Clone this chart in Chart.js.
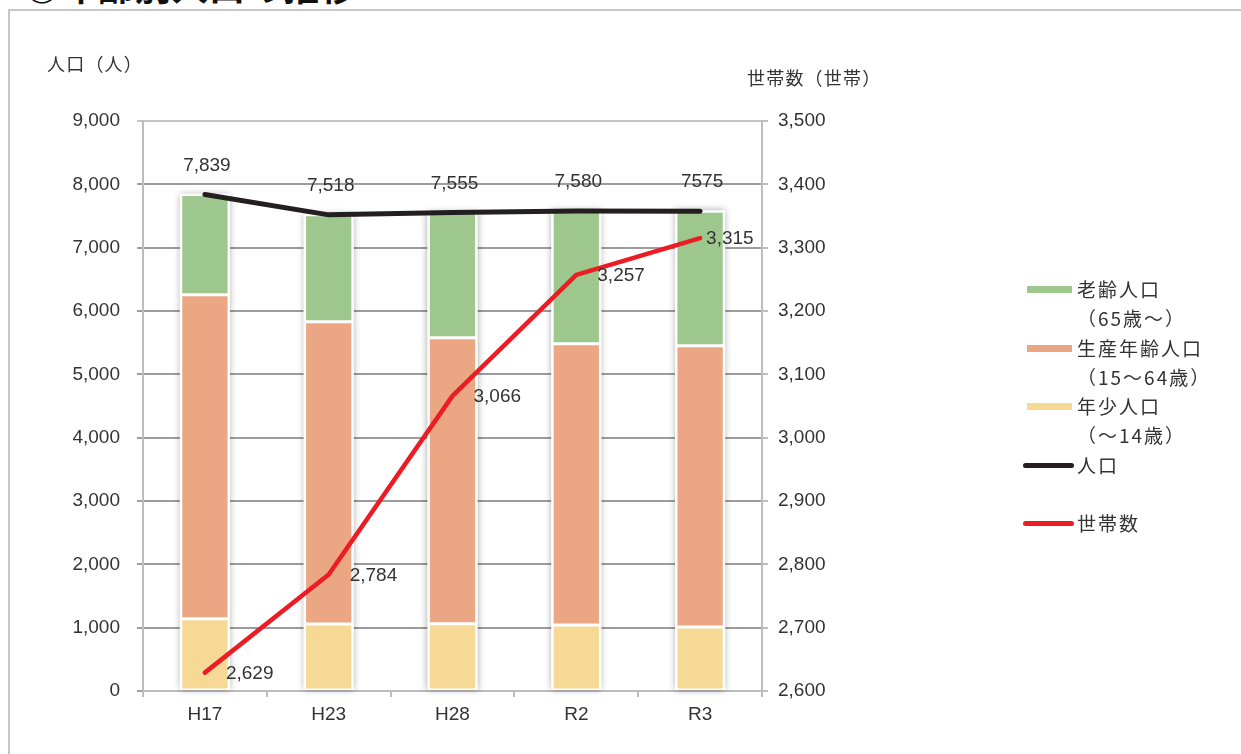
<!DOCTYPE html>
<html>
<head>
<meta charset="utf-8">
<script src="https://cdn.jsdelivr.net/npm/chart.js@4.4.1/dist/chart.umd.min.js"></script>
<style>
  html, body { margin:0; padding:0; background:#fff; }
  #wrap { position:relative; width:1241px; height:754px; overflow:hidden; font-family:"Noto Sans CJK JP", sans-serif; color:#333; }
  #frame { position:absolute; left:8px; top:9px; width:1300px; height:800px; border-left:2px solid #c8c8c8; border-top:2px solid #c8c8c8; }
  #title { position:absolute; left:24px; top:-41px; font-size:36px; font-weight:bold; color:#111; white-space:nowrap; letter-spacing:1px; }
  canvas { position:absolute; left:0; top:0; }
  .at { position:absolute; font-size:18px; letter-spacing:1.2px; color:#333; white-space:nowrap; }
  .lg { position:absolute; font-size:19px; letter-spacing:2px; color:#333; white-space:nowrap; line-height:1; }
  .sw { position:absolute; }
</style>
</head>
<body>
<div id="wrap">
  <div id="frame"></div>
  <div id="title">◎年齢別人口の推移</div>
  <canvas id="c" width="1241" height="754"></canvas>
  <div class="at" style="left:47px;top:50px;">人口（人）</div>
  <div class="at" style="left:747px;top:64px;">世帯数（世帯）</div>
  <div id="legend"></div>
</div>
<script>
const categories = ['H17', 'H23', 'H28', 'R2', 'R3'];
const youngPop   = [1140, 1058, 1060, 1043, 1011];   // 年少人口（～14歳）
const workingPop = [5116, 4771, 4517, 4439, 4439];   // 生産年齢人口（15～64歳）
const elderlyPop = [1583, 1689, 1978, 2098, 2125];   // 老齢人口（65歳～）
const totalPop   = [7839, 7518, 7555, 7580, 7575];   // 人口
const totalPopLabels = ['7,839', '7,518', '7,555', '7,580', '7575'];
const households = [2629, 2784, 3066, 3257, 3315];   // 世帯数
const householdLabels = ['2,629', '2,784', '3,066', '3,257', '3,315'];
const leftTicks  = { min: 0, max: 9000, step: 1000 };
const rightTicks = { min: 2600, max: 3500, step: 100 };

const COLORS = { young:'#F6D995', working:'#EBA683', elderly:'#9DC78C', pop:'#231F20', hh:'#EC1C24' };
const numFont = '"Liberation Sans", Arial, sans-serif';

// Legend (HTML)
const legendItems = [
  { type:'bar',  color:COLORS.elderly, y:289, lines:['老齢人口', '（65歳～）'] },
  { type:'bar',  color:COLORS.working, y:348, lines:['生産年齢人口', '（15～64歳）'] },
  { type:'bar',  color:COLORS.young,   y:406, lines:['年少人口', '（～14歳）'] },
  { type:'line', color:COLORS.pop,     y:465, lines:['人口'] },
  { type:'line', color:COLORS.hh,      y:523, lines:['世帯数'] }
];
const lg = document.getElementById('legend');
legendItems.forEach(it => {
  const sw = document.createElement('div');
  sw.className = 'sw';
  if (it.type === 'bar') {
    sw.style.cssText = `left:1027px;top:${it.y-3}px;width:45px;height:7px;background:${it.color};`;
  } else {
    sw.style.cssText = `left:1023px;top:${it.y-2.5}px;width:51px;height:5px;border-radius:3px;background:${it.color};`;
  }
  lg.appendChild(sw);
  it.lines.forEach((t, k) => {
    const d = document.createElement('div');
    d.className = 'lg';
    d.textContent = t;
    d.style.left = '1077px';
    d.style.top = (it.y - 10 + k * 29) + 'px';
    lg.appendChild(d);
  });
});

const barShadow = {
  id: 'barShadow',
  beforeDatasetsDraw(chart) {
    const ctx = chart.ctx;
    const top = chart.getDatasetMeta(2).data;
    const bot = chart.getDatasetMeta(0).data;
    ctx.save();
    ctx.shadowColor = 'rgba(0,0,0,0.35)';
    ctx.shadowBlur = 7;
    ctx.fillStyle = '#fff';
    top.forEach((b, i) => {
      const w = b.width + 2;
      ctx.fillRect(b.x - w / 2, b.y - 1, w, bot[i].base - b.y + 1);
    });
    ctx.restore();
  }
};

const valueLabels = {
  id: 'valueLabels',
  afterDatasetsDraw(chart) {
    const ctx = chart.ctx;
    ctx.save();
    ctx.font = '19px ' + numFont;
    ctx.fillStyle = '#333';
    ctx.textBaseline = 'middle';
    ctx.textAlign = 'center';
    chart.getDatasetMeta(3).data.forEach((p, i) => {
      ctx.fillText(totalPopLabels[i], p.x + 2, p.y - 29);
    });
    ctx.textAlign = 'left';
    chart.getDatasetMeta(4).data.forEach((p, i) => {
      const dx = (i === householdLabels.length - 1) ? 6 : 21;
      ctx.fillText(householdLabels[i], p.x + dx, p.y + 1);
    });
    ctx.restore();
  }
};

const barCommon = { borderColor:'#ffffff', borderWidth:1.5, borderSkipped:false, barPercentage:0.39, categoryPercentage:1, stack:'pop', yAxisID:'y', order:3 };

new Chart(document.getElementById('c'), {
  data: {
    labels: categories,
    datasets: [
      Object.assign({ type:'bar', label:'年少人口（～14歳）', data:youngPop, backgroundColor:COLORS.young }, barCommon),
      Object.assign({ type:'bar', label:'生産年齢人口（15～64歳）', data:workingPop, backgroundColor:COLORS.working }, barCommon),
      Object.assign({ type:'bar', label:'老齢人口（65歳～）', data:elderlyPop, backgroundColor:COLORS.elderly }, barCommon),
      { type:'line', label:'人口', data:totalPop, borderColor:COLORS.pop, borderWidth:5, pointRadius:0, tension:0,
        borderCapStyle:'round', borderJoinStyle:'round', yAxisID:'y', stack:'line1', order:2 },
      { type:'line', label:'世帯数', data:households, borderColor:COLORS.hh, borderWidth:4.5, pointRadius:0, tension:0,
        borderCapStyle:'round', borderJoinStyle:'round', yAxisID:'y2', stack:'line2', order:1 }
    ]
  },
  options: {
    responsive:false,
    animation:false,
    layout:{ padding:{ left:0, right:0, top:121, bottom:0 } },
    plugins:{ legend:{ display:false }, tooltip:{ enabled:false } },
    scales:{
      x:{
        stacked:true,
        grid:{ offset:true, drawOnChartArea:false, tickLength:6, color:'#bdbdbd', lineWidth:2 },
        border:{ color:'#bdbdbd', width:2 },
        ticks:{ color:'#333', font:{ family:numFont, size:19 }, padding:6 },
        afterFit(s){ s.height = 63; }
      },
      y:{
        stacked:true, position:'left',
        min:leftTicks.min, max:leftTicks.max,
        ticks:{ stepSize:leftTicks.step, color:'#333', font:{ family:numFont, size:19 }, padding:17,
                callback:v => v.toLocaleString('en-US') },
        grid:{ color:c => (c.tick && c.tick.value === leftTicks.max) ? '#c4c4c4' : '#9c9c9c', lineWidth:2, tickLength:6 },
        border:{ color:'#bdbdbd', width:2 },
        afterFit(s){ s.width = 143; }
      },
      y2:{
        position:'right',
        min:rightTicks.min, max:rightTicks.max,
        ticks:{ stepSize:rightTicks.step, color:'#333', font:{ family:numFont, size:19 }, padding:10,
                callback:v => v.toLocaleString('en-US') },
        grid:{ drawOnChartArea:false, tickLength:6, color:'#bdbdbd', lineWidth:2 },
        border:{ color:'#bdbdbd', width:2 },
        afterFit(s){ s.width = 479; }
      }
    }
  },
  plugins:[barShadow, valueLabels]
});
</script>
</body>
</html>
